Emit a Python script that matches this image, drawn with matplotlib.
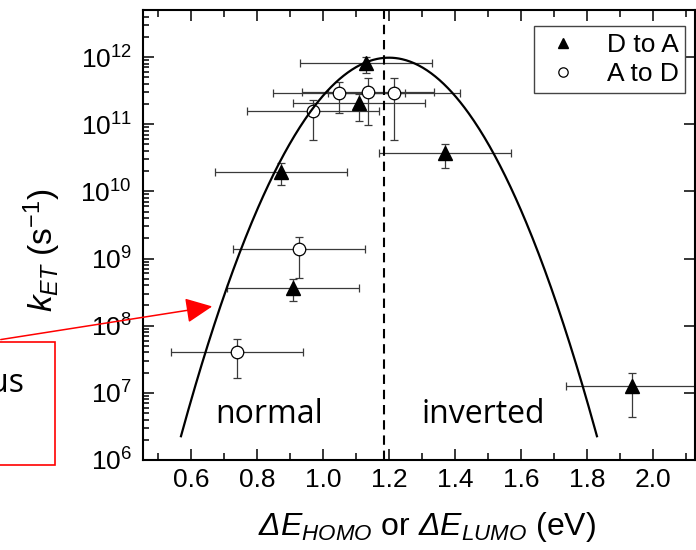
import numpy as np
import matplotlib
matplotlib.use("Agg")
import matplotlib.pyplot as plt
from matplotlib.patches import Rectangle, FancyArrowPatch
from matplotlib.ticker import LogLocator, NullFormatter, MultipleLocator, FormatStrFormatter

plt.rcParams['font.family'] = ['Liberation Sans', 'DejaVu Sans']
plt.rcParams['mathtext.fontset'] = 'custom'
# Greek capitals are routed to 'rm' in mathtext, so make rm italic to get an italic Delta;
# upright math pieces use \mathdefault instead.
plt.rcParams['mathtext.rm'] = 'Liberation Sans:italic'
plt.rcParams['mathtext.it'] = 'Liberation Sans:italic'
plt.rcParams['mathtext.bf'] = 'Liberation Sans:bold'

# ---- data ----
# D to A (filled triangles)
da_x = [0.873, 0.909, 1.109, 1.130, 1.370, 1.936]
da_xerr = [0.2, 0.2, 0.2, 0.2, 0.2, 0.2]
da_k = [1.95e10, 3.7e8, 2.1e11, 8.1e11, 3.7e10, 1.26e7]
da_k_lo = [1.23e10, 2.3e8, 1.1e11, 5.8e11, 2.2e10, 4.3e6]
da_k_hi = [2.6e10, 4.9e8, 2.8e11, 1.0e12, 5.0e10, 2.0e7]

# A to D (open circles)
ad_x = [0.739, 0.927, 0.970, 1.048, 1.137, 1.216]
ad_xerr = [0.2, 0.2, 0.2, 0.2, 0.2, 0.2]
ad_k = [4.1e7, 1.38e9, 1.55e11, 2.95e11, 3.0e11, 2.9e11]
ad_k_lo = [1.66e7, 5.1e8, 5.9e10, 1.45e11, 9.8e10, 5.9e10]
ad_k_hi = [6.3e7, 2.1e9, 2.3e11, 4.2e11, 4.8e11, 4.8e11]

# Marcus parabola (log-space) parameters
marcus_peak_log = 11.99
marcus_lambda = 1.20
marcus_curv = 14.2
marcus_range = (0.57, 1.83)
dashed_x = 1.185

legend_labels = ["D to A", "A to D"]
xlabel = r'$\Delta E_{HOMO}$ or $\Delta E_{LUMO}$ (eV)'
ylabel = r'$k_{ET}$ (s$^{\mathdefault{-1}}$)'

W, H = 696, 550
fig = plt.figure(figsize=(W / 100, H / 100), dpi=100)
ax = fig.add_axes([143 / W, (H - 460) / H, 552 / W, 450 / H])

def asym(y, lo, hi):
    y = np.array(y); lo = np.array(lo); hi = np.array(hi)
    return np.vstack([y - lo, hi - y])

ecol = '#3a3a3a'
ax.errorbar(da_x, da_k, xerr=da_xerr, yerr=asym(da_k, da_k_lo, da_k_hi),
            fmt='none', ecolor=ecol, elinewidth=0.9, capsize=3, capthick=0.9, zorder=2)
ax.errorbar(ad_x, ad_k, xerr=ad_xerr, yerr=asym(ad_k, ad_k_lo, ad_k_hi),
            fmt='none', ecolor=ecol, elinewidth=0.9, capsize=3, capthick=0.9, zorder=2)
ax.plot(da_x, da_k, linestyle='none', marker='^', markersize=9.5, color='black',
        markeredgecolor='black', label=legend_labels[0], zorder=3)
ax.plot(ad_x, ad_k, linestyle='none', marker='o', markersize=9, markerfacecolor='white',
        markeredgecolor='black', markeredgewidth=0.9, label=legend_labels[1], zorder=3)

xc = np.linspace(marcus_range[0], marcus_range[1], 400)
yc = 10 ** (marcus_peak_log - marcus_curv * (xc - marcus_lambda) ** 2)
ax.plot(xc, yc, color='black', linewidth=1.6, zorder=4)
ax.axvline(dashed_x, color='black', linewidth=1.5, dashes=(4.5, 2.8), zorder=4)

ax.set_yscale('log')
ax.set_xlim(0.455, 2.127)
ax.set_ylim(1e6, 10 ** 12.7)
ax.xaxis.set_major_locator(MultipleLocator(0.2))
ax.xaxis.set_minor_locator(MultipleLocator(0.1))
ax.xaxis.set_major_formatter(FormatStrFormatter('%.1f'))
ax.yaxis.set_major_locator(LogLocator(base=10, numticks=20))
ax.yaxis.set_minor_locator(LogLocator(base=10, subs=np.arange(2, 10), numticks=20))
ax.yaxis.set_minor_formatter(NullFormatter())

ax.tick_params(which='both', direction='in', labelsize=19, width=1.1)
ax.tick_params(axis='x', which='major', length=8, top=True, pad=6)
ax.tick_params(axis='x', which='minor', length=5, top=True)
ax.tick_params(axis='y', which='major', length=8, right=True, pad=8)
ax.tick_params(axis='y', which='minor', length=4.5, right=False)
for s in ax.spines.values():
    s.set_linewidth(1.5)

ax.set_xlabel(xlabel, fontsize=23)
ax.xaxis.set_label_coords(0.515, -0.110)
ax.xaxis.label.set_va('top')
ax.set_ylabel(ylabel, fontsize=24)
ax.yaxis.set_label_coords(-0.183, 0.467)
ax.yaxis.label.set_va('center')

leg = ax.legend(loc='upper right', bbox_to_anchor=(0.982, 0.964), borderaxespad=0,
                fontsize=19, markerscale=0.75, frameon=True, fancybox=False,
                framealpha=1, edgecolor='#444444', handlelength=1.7,
                handletextpad=0.8, labelspacing=0.2, borderpad=0.25)
leg.get_frame().set_linewidth(1.0)

ax.text(0.673, 3.5e6, 'normal', fontsize=23, family='Open Sans', va='baseline')
ax.text(1.30, 3.5e6, 'inverted', fontsize=23, family='Open Sans', va='baseline')

# red annotation box (cut at the figure edge) and arrow
fig.add_artist(Rectangle((-5 / W, (H - 465) / H), 60 / W, 123 / H, transform=fig.transFigure,
                         fill=False, edgecolor='red', linewidth=1.2))
fig.text(25 / W, (H - 392) / H, 'Marcus', fontsize=23, family='Open Sans',
         ha='right', va='baseline')
fig.add_artist(FancyArrowPatch((-2 / W, (H - 340) / H), (215 / W, (H - 306) / H),
                               transform=fig.transFigure, arrowstyle='-|>,head_length=7.5,head_width=3.5',
                               color='red', linewidth=1.1, mutation_scale=2.2))

fig.savefig('out.png', dpi=100)
